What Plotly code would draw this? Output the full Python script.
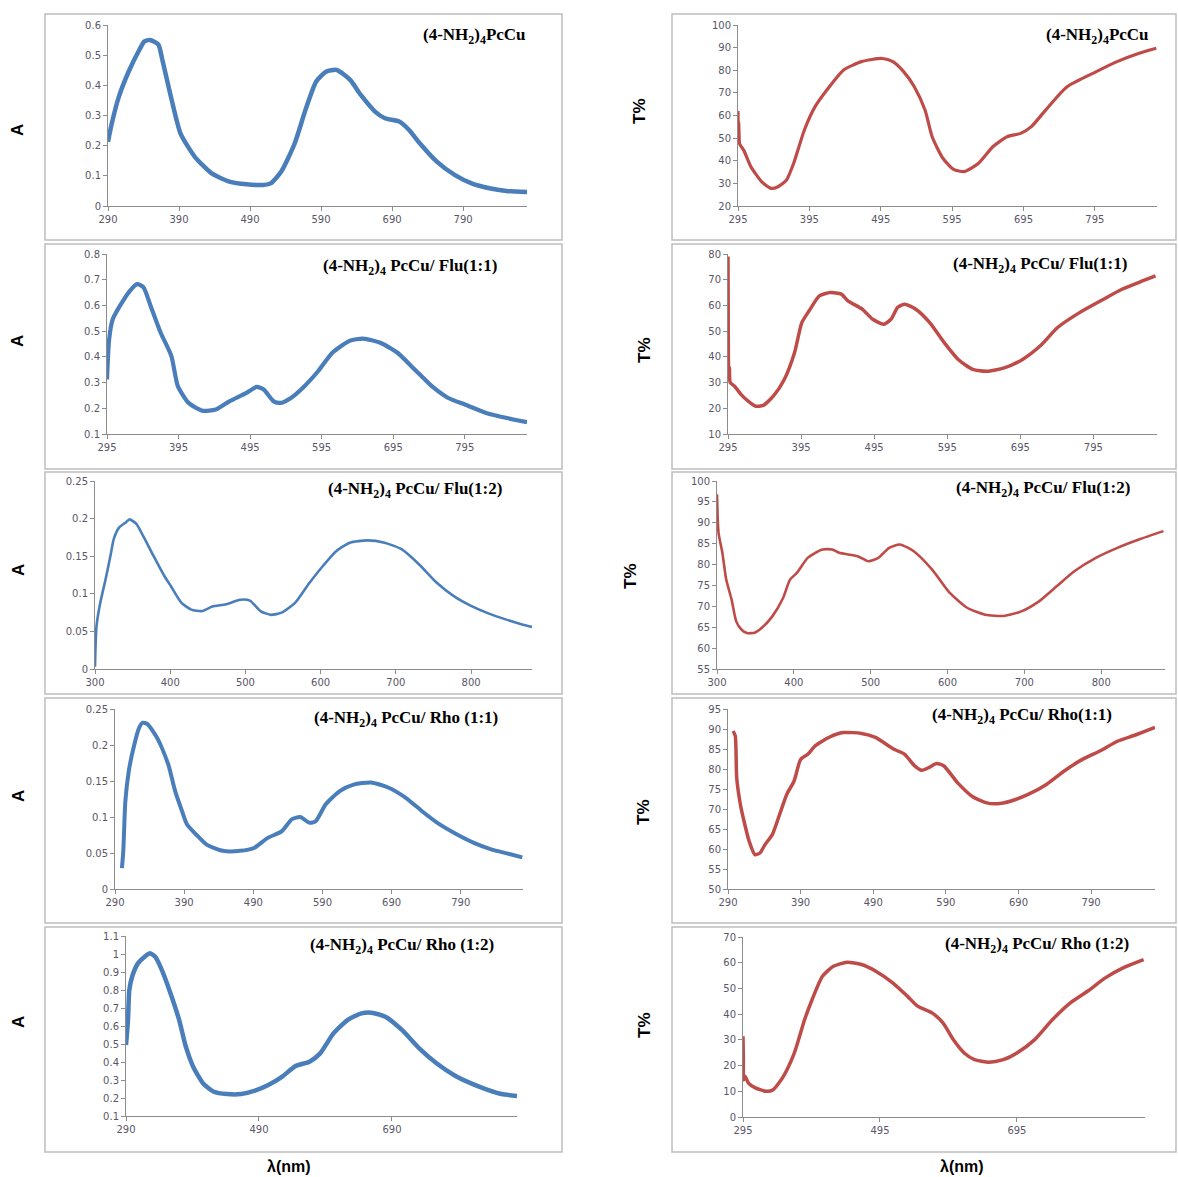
import plotly.graph_objects as go

W, H = 1178, 1177          # browser window == figure size (page margin removed below)


def px2x(px):
    return px / W


def py2y(py):
    return 1 - py / H


# ---------------- data ----------------
# Panel 1: (4-NH2)4PcCu absorbance
wl1 = [290, 295, 305, 319, 334, 341, 349, 361, 366, 378, 392, 412, 436, 461, 485, 510, 519, 534, 553, 568,
       583, 597, 612, 631, 646, 666, 680, 700, 714, 729, 753, 778, 802, 827, 851, 880]
a1 = [0.213, 0.27, 0.36, 0.445, 0.517, 0.545, 0.55, 0.535, 0.49, 0.368, 0.241, 0.164, 0.108, 0.081, 0.072,
      0.070, 0.075, 0.114, 0.208, 0.318, 0.412, 0.445, 0.451, 0.418, 0.368, 0.313, 0.291, 0.280, 0.252, 0.208,
      0.147, 0.103, 0.075, 0.059, 0.050, 0.046]

# Panel 2: (4-NH2)4PcCu transmittance
wl2 = [295, 295.5, 296, 297, 298, 303, 313, 328, 341, 351, 363, 373, 388, 403, 423, 443, 468, 497, 512, 527,
       542, 557, 567, 582, 597, 612, 632, 652, 672, 691, 706, 726, 756, 797, 826, 856, 881]
t2 = [62, 50, 57, 48, 47, 44.7, 37.4, 30.8, 27.8, 28.5, 31.5, 38.9, 53.6, 63.9, 72.7, 80.1, 83.8, 85.2, 83.8,
      79.4, 72.7, 62.4, 50.6, 41.1, 36.2, 35.2, 38.9, 46.2, 50.6, 52.1, 55.1, 62.4, 72.7, 79.4, 83.8, 87.4, 89.7]

# Panel 3: (4-NH2)4 PcCu/ Flu(1:1) absorbance
wl3 = [295, 298, 303, 313, 327, 337, 346, 356, 370, 385, 394, 409, 428, 447, 466, 490, 504, 514, 528, 538,
       552, 571, 590, 610, 634, 653, 677, 701, 725, 749, 772, 796, 825, 854, 882]
a3 = [0.312, 0.468, 0.546, 0.598, 0.657, 0.683, 0.670, 0.598, 0.494, 0.403, 0.286, 0.221, 0.191, 0.195, 0.227,
      0.260, 0.283, 0.273, 0.227, 0.221, 0.240, 0.286, 0.344, 0.416, 0.462, 0.471, 0.455, 0.416, 0.351, 0.286,
      0.240, 0.214, 0.182, 0.162, 0.146]

# Panel 4: (4-NH2)4 PcCu/ Flu(1:1) transmittance
wl4 = [295, 295.5, 296, 297, 298, 304, 313, 323, 333, 343, 357, 372, 386, 396, 406, 420, 435, 450, 459, 479,
       493, 508, 518, 527, 537, 552, 571, 591, 610, 630, 649, 673, 698, 722, 746, 776, 805, 834, 863, 880]
t4 = [79, 40, 33, 36, 30, 28.6, 25.3, 22.7, 20.8, 21.1, 24.7, 31.2, 41.6, 53.3, 57.9, 63.7, 65.0, 64.4, 61.8,
      58.5, 54.6, 52.7, 54.6, 59.2, 60.5, 58.5, 53.3, 45.5, 39.0, 35.1, 34.4, 35.7, 39.0, 44.2, 51.4, 57.2,
      61.8, 66.3, 69.6, 71.5]

# Panel 5: (4-NH2)4 PcCu/ Flu(1:2) absorbance
wl5 = [300, 302, 307, 314, 321, 325, 332, 341, 346, 355, 364, 378, 392, 401, 415, 428, 442, 456, 474, 493,
       506, 520, 534, 548, 566, 584, 603, 621, 639, 662, 685, 708, 731, 754, 777, 800, 823, 846, 869, 881]
a5 = [0.003, 0.057, 0.088, 0.119, 0.153, 0.173, 0.188, 0.195, 0.199, 0.193, 0.177, 0.150, 0.124, 0.110, 0.088,
      0.079, 0.077, 0.083, 0.086, 0.092, 0.091, 0.077, 0.072, 0.075, 0.088, 0.113, 0.137, 0.157, 0.168, 0.171,
      0.168, 0.159, 0.139, 0.115, 0.097, 0.084, 0.074, 0.066, 0.059, 0.056]

# Panel 6: (4-NH2)4 PcCu/ Flu(1:2) transmittance
wl6 = [300, 302, 307, 312, 319, 325, 332, 339, 349, 358, 372, 386, 395, 404, 418, 437, 450, 459, 483, 497,
       510, 524, 538, 556, 580, 603, 626, 649, 673, 696, 719, 742, 765, 793, 821, 849, 881]
t6 = [96.8, 87.6, 82.8, 76.4, 71.6, 66.4, 64.4, 63.6, 63.7, 64.8, 67.6, 72.0, 76.4, 78.0, 81.6, 83.6, 83.6,
      82.8, 82.0, 80.8, 81.6, 84.0, 84.8, 83.2, 78.8, 73.2, 69.6, 68.0, 67.7, 68.8, 71.2, 74.8, 78.4, 81.6,
      84.0, 86.0, 88.0]

# Panel 7: (4-NH2)4 PcCu/ Rho (1:1) absorbance
wl7 = [300, 302, 305, 310, 317, 325, 330, 337, 352, 367, 377, 387, 394, 407, 422, 446, 471, 491, 511, 531,
       546, 558, 571, 580, 595, 615, 635, 660, 685, 710, 734, 759, 784, 809, 834, 859, 879]
a7 = [0.029, 0.053, 0.122, 0.164, 0.197, 0.224, 0.231, 0.229, 0.208, 0.173, 0.136, 0.108, 0.090, 0.076, 0.062,
      0.053, 0.053, 0.057, 0.071, 0.080, 0.097, 0.100, 0.092, 0.094, 0.118, 0.136, 0.145, 0.148, 0.141, 0.127,
      0.108, 0.090, 0.076, 0.064, 0.055, 0.049, 0.044]

# Panel 8: (4-NH2)4 PcCu/ Rho(1:1) transmittance
wl8 = [297, 300, 302, 307, 312, 319, 327, 334, 341, 351, 361, 371, 381, 390, 400, 410, 430, 449, 474, 493,
       518, 533, 547, 557, 567, 577, 587, 606, 626, 645, 660, 680, 704, 729, 753, 778, 802, 827, 851, 878]
t8 = [89.5, 88.3, 77.8, 71.2, 67.0, 62.0, 58.6, 59.0, 61.1, 63.6, 68.6, 73.7, 77.0, 82.4, 83.7, 85.8, 88.0,
      89.1, 88.9, 87.9, 85.0, 83.7, 80.8, 79.7, 80.4, 81.4, 80.8, 76.6, 73.2, 71.6, 71.3, 72.0, 73.7, 76.2,
      79.5, 82.4, 84.5, 87.0, 88.5, 90.4]

# Panel 9: (4-NH2)4 PcCu/ Rho (1:2) absorbance
wl9 = [290, 293, 295, 300, 308, 318, 326, 334, 344, 357, 370, 380, 391, 406, 422, 442, 463, 484, 504, 525,
       545, 566, 582, 602, 623, 644, 659, 680, 705, 731, 757, 783, 809, 835, 855, 878]
a9 = [0.494, 0.633, 0.800, 0.883, 0.948, 0.985, 1.004, 0.985, 0.911, 0.781, 0.633, 0.485, 0.374, 0.281, 0.235,
      0.222, 0.222, 0.241, 0.272, 0.319, 0.378, 0.402, 0.448, 0.559, 0.633, 0.670, 0.674, 0.652, 0.578, 0.476,
      0.393, 0.328, 0.281, 0.244, 0.222, 0.211]

# Panel 10: (4-NH2)4 PcCu/ Rho (1:2) transmittance
wl10 = [295, 295.5, 296, 298, 303, 313, 329, 339, 354, 370, 385, 396, 411, 427, 447, 468, 489, 514, 535, 550,
        571, 587, 602, 618, 633, 654, 675, 695, 721, 747, 773, 798, 824, 850, 880]
t10 = [31.4, 23.6, 14.5, 15.8, 13.2, 11.3, 10.0, 10.6, 15.8, 24.9, 37.9, 45.7, 54.7, 58.6, 60.2, 59.3, 56.7,
       52.1, 47.0, 43.1, 40.5, 36.6, 30.1, 24.9, 22.3, 21.3, 22.3, 24.9, 30.1, 37.9, 44.4, 48.9, 54.1, 58.0, 61.2]

titles = [
    "(4-NH<sub>2</sub>)<sub>4</sub>PcCu",
    "(4-NH<sub>2</sub>)<sub>4</sub>PcCu",
    "(4-NH<sub>2</sub>)<sub>4</sub> PcCu/ Flu(1:1)",
    "(4-NH<sub>2</sub>)<sub>4</sub> PcCu/ Flu(1:1)",
    "(4-NH<sub>2</sub>)<sub>4</sub> PcCu/ Flu(1:2)",
    "(4-NH<sub>2</sub>)<sub>4</sub> PcCu/ Flu(1:2)",
    "(4-NH<sub>2</sub>)<sub>4</sub> PcCu/ Rho (1:1)",
    "(4-NH<sub>2</sub>)<sub>4</sub> PcCu/ Rho(1:1)",
    "(4-NH<sub>2</sub>)<sub>4</sub> PcCu/ Rho (1:2)",
    "(4-NH<sub>2</sub>)<sub>4</sub> PcCu/ Rho (1:2)",
]
x_title = "λ(nm)"

BLUE = "#4a7ebb"
RED = "#be4b48"

# layout spec per panel: (x, y, color, width, plot px box, xrange, yrange, xtick0, xdtick, ydtick, title pos)
panels = [
    (wl1, a1, BLUE, 4.5, (108, 527, 25, 206), (290, 880), (0, 0.6), 290, 100, 0.1, (474, 36)),
    (wl2, t2, RED, 3.2, (738, 1157, 25, 206), (295, 882), (20, 100), 295, 100, 10, (1097, 36)),
    (wl3, a3, BLUE, 4.2, (107, 527, 254, 434), (295, 882), (0.1, 0.8), 295, 100, 0.1, (410, 267)),
    (wl4, t4, RED, 3.5, (728, 1157, 254, 434), (295, 882), (10, 80), 295, 100, 10, (1040, 265)),
    (wl5, a5, BLUE, 2.6, (95, 532, 481, 669), (300, 881), (0, 0.25), 300, 100, 0.05, (415, 490)),
    (wl6, t6, RED, 2.6, (717, 1165, 481, 669), (300, 883), (55, 100), 300, 100, 5, (1043, 489)),
    (wl7, a7, BLUE, 4.0, (115, 523, 709, 889), (290, 880), (0, 0.25), 290, 100, 0.05, (406, 719)),
    (wl8, t8, RED, 3.5, (728, 1155, 709, 889), (290, 878), (50, 95), 290, 100, 5, (1022, 716)),
    (wl9, a9, BLUE, 4.5, (126, 517, 936, 1116), (290, 878), (0.1, 1.1), 290, 200, 0.1, (402, 946)),
    (wl10, t10, RED, 3.5, (743, 1145, 937, 1117), (295, 882), (0, 70), 295, 200, 10, (1037, 945)),
]

fig = go.Figure()
layout = dict(
    template="none",
    width=W, height=H, margin=dict(l=0, r=0, t=0, b=0, pad=0, autoexpand=False),
    paper_bgcolor="white", plot_bgcolor="white", showlegend=False,
    annotations=[], shapes=[],
)

tickfont = dict(family="DejaVu Sans", size=10, color="#5a5668")

for i, (xs, ys, col, lw, box, xr, yr, x0, xd, yd, tpos) in enumerate(panels):
    n = i + 1
    sx = "" if n == 1 else str(n)
    px0, px1, py0, py1 = box
    fig.add_trace(go.Scatter(
        x=xs, y=ys, mode="lines", xaxis="x" + sx, yaxis="y" + sx,
        line=dict(color=col, width=lw, shape="spline", smoothing=0.6),
        hoverinfo="skip",
    ))
    layout["xaxis" + sx] = dict(
        domain=[px2x(px0), px2x(px1)], range=list(xr), anchor="y" + sx, automargin=False,
        tick0=x0, dtick=xd, showgrid=False, zeroline=False,
        showline=True, linecolor="#8c8c8c", linewidth=1,
        ticks="outside", ticklen=4, tickcolor="#8c8c8c", tickfont=tickfont,
    )
    layout["yaxis" + sx] = dict(
        domain=[py2y(py1), py2y(py0)], range=list(yr), anchor="x" + sx, automargin=False,
        tick0=yr[0], dtick=yd, showgrid=False, zeroline=False,
        showline=True, linecolor="#8c8c8c", linewidth=1,
        ticks="outside", ticklen=4, tickcolor="#8c8c8c", tickfont=tickfont,
    )
    layout["annotations"].append(dict(
        text="<b>" + titles[i] + "</b>", x=px2x(tpos[0]), y=py2y(tpos[1]),
        xref="paper", yref="paper", xanchor="center", yanchor="middle", showarrow=False,
        font=dict(family="Liberation Serif", size=17, color="black"),
    ))

# y-axis titles
for (x, y) in [(18, 130), (18, 341), (18, 570), (18, 796), (18, 1022)]:
    layout["annotations"].append(dict(
        text="<b>A</b>", x=px2x(x), y=py2y(y), xref="paper", yref="paper",
        xanchor="center", yanchor="middle",
        showarrow=False, textangle=-90, font=dict(family="Liberation Sans", size=17, color="black"),
    ))
for (x, y) in [(639, 111), (645, 350), (630, 576), (643, 812), (644, 1025)]:
    layout["annotations"].append(dict(
        text="<b>T%</b>", x=px2x(x), y=py2y(y), xref="paper", yref="paper",
        xanchor="center", yanchor="middle",
        showarrow=False, textangle=-90, font=dict(family="Liberation Sans", size=17, color="black"),
    ))
for x in [289, 962]:
    layout["annotations"].append(dict(
        text="<b>" + x_title + "</b>", x=px2x(x), y=py2y(1166), xref="paper", yref="paper",
        xanchor="center", yanchor="middle",
        showarrow=False, font=dict(family="Liberation Sans", size=16, color="black"),
    ))

# chart frames
rows = [(14, 240), (244, 469), (472, 694), (698, 923), (927, 1152)]
for (t, b) in rows:
    for (l, r) in [(45, 562), (672, 1176)]:
        layout["shapes"].append(dict(
            type="rect", xref="paper", yref="paper",
            x0=px2x(l), x1=px2x(r), y0=py2y(b), y1=py2y(t),
            line=dict(color="#bdbdbd", width=1.5), fillcolor="rgba(0,0,0,0)", layer="below",
        ))

fig.update_layout(**layout)
fig.write_html(
    "out.html",
    config={"displayModeBar": False},
    post_script="document.body.style.margin='0';document.body.style.overflow='hidden';",
)
